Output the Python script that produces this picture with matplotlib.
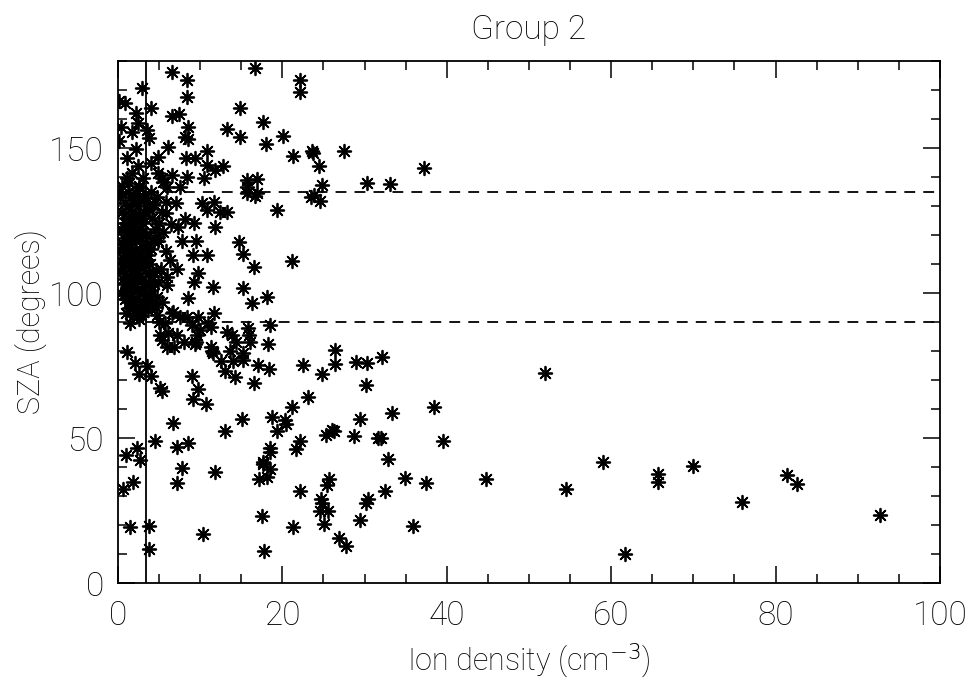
import matplotlib
matplotlib.use("Agg")
import matplotlib.pyplot as plt
from matplotlib.ticker import MultipleLocator

plt.rcParams['font.family'] = ['Roboto', 'DejaVu Sans']
plt.rcParams['font.weight'] = 'light'
plt.rcParams['axes.labelweight'] = 'light'
plt.rcParams['axes.titleweight'] = 'light'

title = "Group 2"
x_label = "Ion density (cm$^{-3}$)"
y_label = "SZA (degrees)"

x_range = (0, 100)
y_range = (0, 180)
x_major = [0, 20, 40, 60, 80, 100]
y_major = [0, 50, 100, 150]

density_cut = 3.4
sza_cuts = [90, 135]

# sparse high-density points
density_a = [51.9, 44.8, 54.5, 59.0, 61.7, 65.7, 65.7, 69.9, 75.9, 81.4, 82.6, 92.7]
sza_a = [72.4, 35.9, 32.4, 41.7, 10.0, 37.6, 34.8, 40.3, 27.9, 37.2, 34.1, 23.4]

# 20-40 cm^-3
density_b = [22.1, 22.1, 21.3, 23.6, 23.7, 27.5, 24.5, 37.2, 24.8, 30.3, 33.1, 23.5, 23.8,
             24.6, 21.2, 26.4, 22.5, 26.4, 29.0, 30.3, 32.1, 24.8, 30.2, 23.1, 21.2, 38.4,
             33.3, 29.4, 22.1, 21.7, 25.3, 26.0, 26.3, 28.7, 31.6, 32.0, 39.5, 32.8, 34.9,
             37.5, 25.7, 25.4, 22.1, 32.5, 24.7, 24.8, 24.6, 25.5, 30.4, 30.2, 21.3, 25.1,
             29.4, 35.9, 26.9, 27.7]
sza_b = [173.4, 169.3, 147.2, 149.0, 148.3, 149.0, 143.8, 143.1, 137.2, 137.9, 137.6, 133.1,
         133.8, 131.7, 111.0, 80.3, 75.2, 75.5, 76.2, 75.9, 77.9, 72.1, 68.3, 64.1, 60.7,
         60.7, 58.6, 56.6, 49.0, 46.2, 51.0, 52.8, 52.4, 50.7, 50.0, 50.0, 49.0, 42.8, 36.2,
         34.5, 35.9, 33.8, 31.7, 31.7, 29.0, 27.6, 24.8, 24.8, 29.0, 27.6, 19.3, 20.3, 21.7,
         19.7, 15.5, 12.8]

# below 20 cm^-3, SZA above 135
density_c = [6.6, 8.4, 8.4, 16.7, 2.9, 0.9, 0.1, 4.0, 2.2, 14.8, 6.6, 7.4, 2.4, 1.7, 0.4,
             3.5, 3.8, 8.5, 8.2, 8.5, 13.3, 17.6, 14.8, 18.0, 20.1, 0.1, 2.2, 6.1, 10.8, 1.1,
             4.9, 8.3, 9.4, 2.4, 4.0, 10.8, 12.8, 11.8, 1.7, 1.1, 4.9, 6.6, 8.4, 10.5, 15.7,
             16.9, 3.0, 5.4, 6.0, 7.5, 15.7, 2.6, 0.2, 2.6, 3.0, 4.3, 5.5]
sza_c = [176.2, 173.4, 167.6, 177.6, 170.7, 165.5, 166.2, 163.8, 162.1, 163.8, 161.0, 161.7,
         158.6, 155.5, 157.2, 156.2, 153.4, 157.2, 153.8, 153.1, 156.6, 159.0, 153.8, 151.4,
         154.1, 152.4, 149.7, 150.3, 149.0, 146.6, 146.9, 146.6, 146.6, 143.8, 144.8, 144.1,
         143.8, 142.4, 141.4, 139.7, 141.4, 140.7, 140.0, 139.7, 139.0, 139.3, 139.7, 139.7,
         136.6, 136.6, 136.6, 136.9, 134.8, 136.2, 132.8, 130.3, 138.3]

# below 20 cm^-3, SZA 90-135
density_d = [10.2, 11.7, 10.8, 12.4, 13.3, 19.3, 5.8, 7.1, 4.3, 5.8, 8.2, 9.2, 6.4, 7.3,
             11.8, 16.9, 16.7, 15.7, 7.8, 9.5, 14.7, 15.2, 4.9, 4.9, 4.0, 5.8, 9.1, 10.8,
             6.3, 16.5, 9.7, 5.2, 7.2, 9.2, 6.0, 6.0, 3.9, 4.9, 11.6, 15.2, 18.1, 16.3, 8.5,
             4.7, 5.4, 4.6, 6.7, 7.5, 8.4, 9.7, 11.7, 3.0, 2.4, 4.7, 5.0, 6.6]
sza_d = [131.0, 131.4, 128.6, 127.9, 127.9, 128.6, 131.4, 131.0, 130.7, 127.6, 125.5, 124.1,
         123.8, 122.8, 122.8, 134.5, 133.6, 134.5, 117.9, 117.9, 117.6, 113.4, 119.3, 117.9,
         115.2, 114.5, 113.1, 113.1, 111.4, 109.0, 106.9, 108.3, 108.3, 103.8, 105.5, 102.8,
         103.1, 103.8, 102.1, 101.7, 98.6, 96.6, 98.3, 98.6, 96.9, 95.2, 93.4, 91.7, 91.7,
         91.7, 93.1, 93.4, 92.1, 92.4, 90.0, 93.1]

# below 20 cm^-3, SZA below 90
density_e = [1.5, 5.7, 5.1, 6.1, 7.2, 5.4, 6.0, 6.8, 8.0, 9.0, 10.0, 9.6, 9.5, 9.4, 11.0,
             11.3, 11.3, 11.4, 11.6, 13.3, 13.9, 14.4, 13.6, 15.2, 15.2, 14.0, 12.5, 13.0,
             14.2, 15.8, 16.0, 16.1, 18.5, 18.3, 17.0, 18.4, 16.5, 1.1, 2.1, 3.5, 2.6, 4.0,
             5.1, 5.3, 9.0, 9.7, 9.1, 10.7, 15.1, 18.7, 20.3, 20.5, 19.3, 13.0, 6.7, 4.5,
             2.3, 7.2, 8.5, 18.5, 1.0, 2.7, 0.6, 1.8, 7.8, 7.2, 11.8, 18.5, 17.6, 17.6, 18.5,
             17.2, 18.1, 17.5, 17.8, 1.5, 3.8, 3.8, 10.3]
sza_e = [89.7, 89.7, 85.5, 86.2, 85.5, 83.8, 81.4, 81.4, 83.1, 89.0, 87.2, 85.5, 83.1, 82.4,
         89.7, 88.3, 81.4, 80.0, 79.3, 86.6, 85.5, 83.1, 80.0, 79.3, 76.9, 76.6, 76.6, 73.1,
         71.0, 87.9, 85.5, 83.1, 89.0, 82.4, 75.2, 73.8, 69.0, 79.7, 75.9, 74.8, 72.1, 71.4,
         67.2, 66.2, 71.4, 66.9, 63.4, 61.7, 56.6, 57.2, 56.2, 55.0, 52.4, 52.4, 55.2, 49.0,
         46.6, 46.9, 48.3, 46.6, 44.1, 42.4, 32.4, 34.8, 39.7, 34.5, 38.3, 45.2, 41.7, 41.0,
         39.3, 35.9, 36.6, 23.1, 11.0, 19.3, 19.7, 11.7, 16.9]

# crowded low-density core
density_f = [0.3, 0.5, 0.8, 1.0, 1.2, 1.5, 1.8, 2.1, 2.4, 2.7, 0.4, 0.7, 1.0, 1.3, 1.6, 1.9,
             2.2, 2.5, 2.8, 3.1, 0.2, 0.6, 0.9, 1.2, 1.5, 1.8, 2.1, 2.4, 2.7, 3.0, 0.3, 0.6,
             0.9, 1.2, 1.5, 1.8, 2.1, 2.4, 2.7, 3.0, 3.3, 0.4, 0.8, 1.1, 1.4, 1.7, 2.0, 2.3,
             2.6, 2.9, 3.2, 1.0, 1.4, 1.8, 2.2, 2.6, 3.3, 3.6, 3.9, 4.2, 0.5, 1.4, 2.3, 3.2,
             0.9, 2.0, 3.2, 3.4, 3.5, 3.7, 3.9, 4.1, 4.4, 4.6, 1.6, 2.6, 1.3, 0.7, 2.9, 1.7,
             1.1, 2.0, 4.2, 4.5, 5.0, 4.4, 5.5, 3.8, 4.0, 4.7, 5.3, 3.6, 4.0,
             0.6, 1.1, 1.7, 2.3, 2.9, 0.8, 1.5, 2.2, 2.8, 3.4, 1.0, 1.9, 2.6]
sza_f = [133, 128, 131, 126, 135, 129, 132, 127, 130, 125, 122, 119, 121, 117, 123, 120,
         118, 122, 119, 124, 115, 112, 114, 110, 113, 111, 115, 112, 114, 116, 108, 105,
         107, 103, 106, 104, 108, 101, 106, 109, 111, 100, 98, 101, 97, 99, 96, 98,
         95, 100, 102, 93, 95, 92, 94, 91, 96, 94, 99, 97, 137, 138, 134, 133,
         124, 124, 128, 120, 117, 113, 110, 106, 103, 108, 109, 110, 101, 110, 121, 126,
         116, 102, 126, 122, 124, 118, 121, 129, 135, 133, 128, 107, 101,
         117, 124, 114, 120, 111, 103, 120, 132, 104, 98, 111, 106, 127]

density = density_a + density_b + density_c + density_d + density_e + density_f
sza = sza_a + sza_b + sza_c + sza_d + sza_e + sza_f

fig = plt.figure(figsize=(9.70, 6.88), dpi=100)
ax = fig.add_axes([0.1216, 0.1526, 0.8474, 0.7587])

ax.scatter(density, sza, marker=(8, 2, 0), s=95, c='black', linewidths=1.3, zorder=3)
ax.scatter(density, sza, marker='o', s=10, c='black', linewidths=0, zorder=3)

ax.plot([density_cut, density_cut], list(y_range), color='black', lw=1.3, zorder=2)
for s in sza_cuts:
    ax.plot([density_cut, x_range[1]], [s, s], color='black', lw=1.3,
            dashes=(6, 4.5), zorder=2)

ax.set_xlim(*x_range)
ax.set_ylim(*y_range)
ax.set_xticks(x_major)
ax.set_yticks(y_major)
ax.xaxis.set_minor_locator(MultipleLocator(5))
ax.yaxis.set_minor_locator(MultipleLocator(10))
ax.tick_params(which='both', direction='in', top=True, right=True, width=1.1,
               labelsize=24, color='black', labelcolor='black')
ax.tick_params(which='major', length=12.5)
ax.tick_params(which='minor', length=6.5)
ax.tick_params(axis='x', which='major', pad=12)
ax.tick_params(axis='y', which='major', pad=10)
for sp in ax.spines.values():
    sp.set_linewidth(1.3)

ax.set_xlabel(x_label, fontsize=22, labelpad=7)
ax.set_ylabel(y_label, fontsize=22, labelpad=2)
ax.set_title(title, fontsize=24, pad=16)

fig.savefig("out.png", dpi=100)
